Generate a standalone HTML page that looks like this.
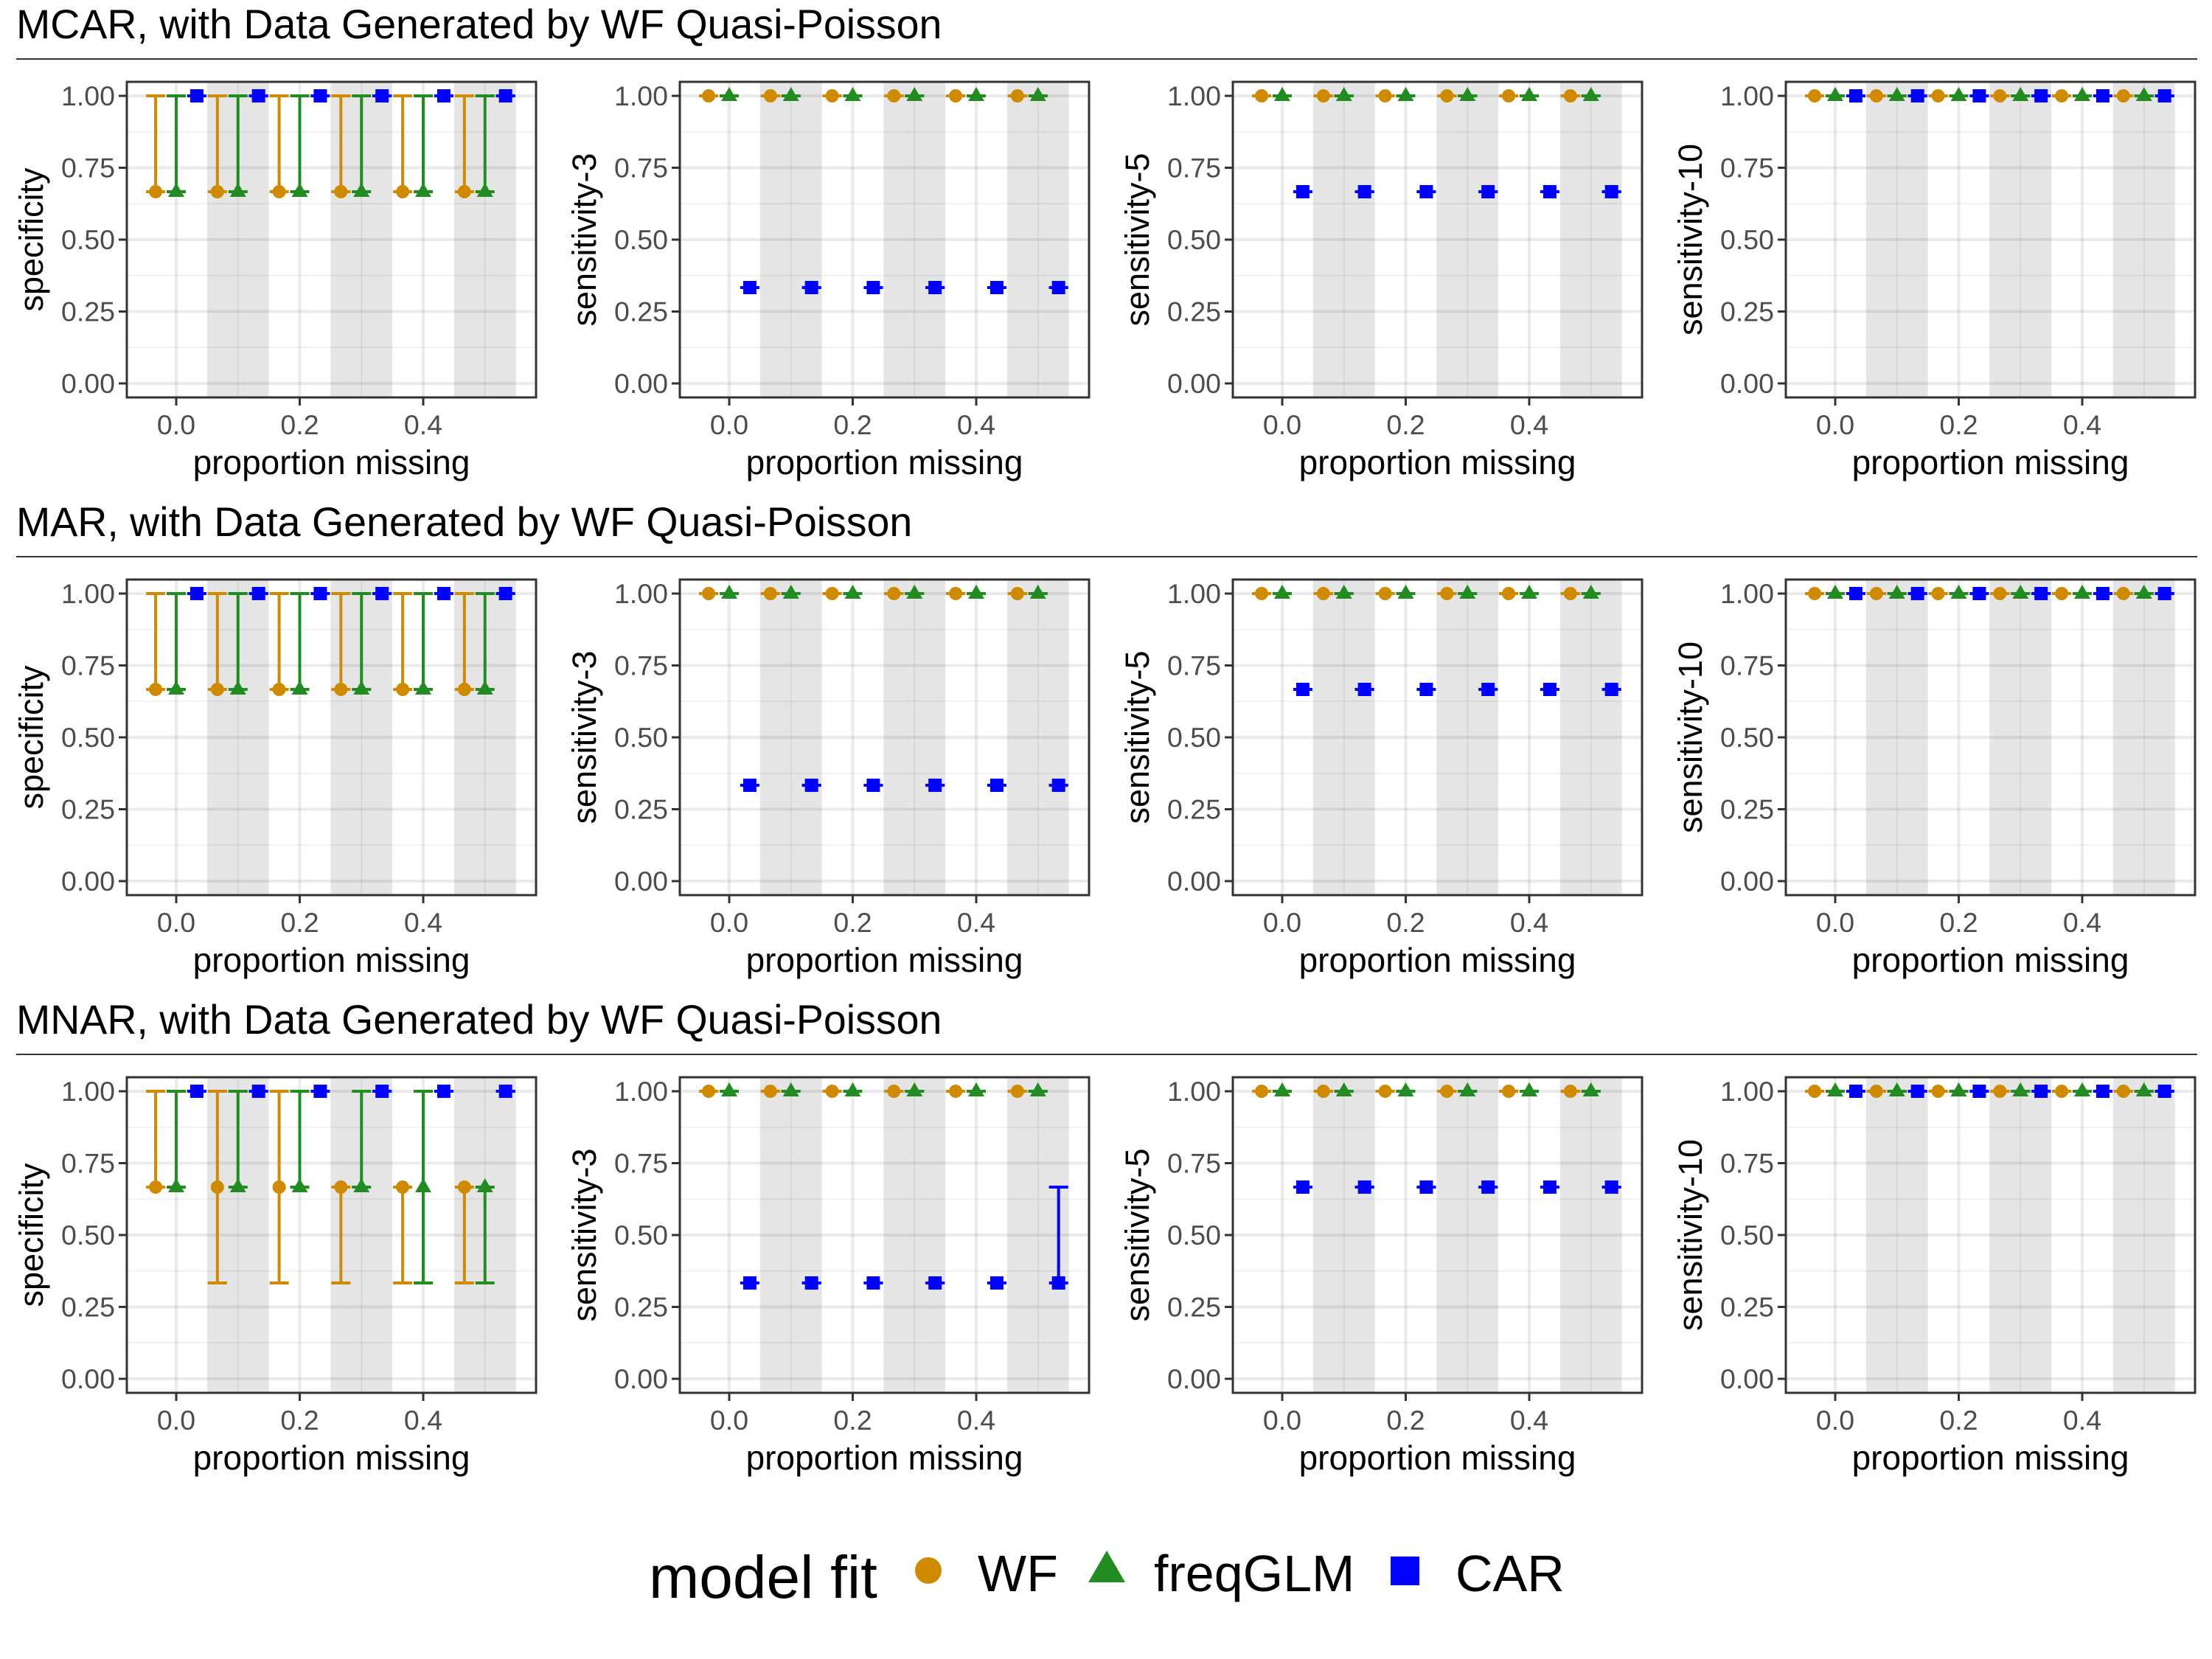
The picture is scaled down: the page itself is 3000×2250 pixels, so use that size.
<!DOCTYPE html>
<html><head><meta charset="utf-8"><style>
html,body{margin:0;padding:0;background:#fff;}
svg{display:block;font-family:"Liberation Sans",Arial,sans-serif;}
</style></head><body>
<svg id="chart" width="3000" height="2250" xmlns="http://www.w3.org/2000/svg"></svg>
<script>
// ---- data ----
const groups = [0, 0.1, 0.2, 0.3, 0.4, 0.5];
const seriesNames = ["WF", "freqGLM", "CAR"];
const rowTitles = ["MCAR, with Data Generated by WF Quasi-Poisson","MAR, with Data Generated by WF Quasi-Poisson","MNAR, with Data Generated by WF Quasi-Poisson"];
const metricNames = ["specificity","sensitivity-3","sensitivity-5","sensitivity-10"];
const yTicks = [0, 0.25, 0.5, 0.75, 1];
const yTickLabels = ["0.00","0.25","0.50","0.75","1.00"];
const xTicks = [0, 0.2, 0.4];
const xTickLabels = ["0.0","0.2","0.4"];
const T = 2/3, L = 1/3;
const specPt = {WF:[T,T,T,T,T,T], freqGLM:[T,T,T,T,T,T], CAR:[1,1,1,1,1,1]};
const specLo = {WF:[T,T,T,T,T,T], freqGLM:[T,T,T,T,T,T], CAR:[1,1,1,1,1,1]};
const specHi = {WF:[1,1,1,1,1,1], freqGLM:[1,1,1,1,1,1], CAR:[1,1,1,1,1,1]};
const mnarSpecLo = {WF:[T,L,L,L,L,L], freqGLM:[T,T,T,T,L,L], CAR:[1,1,1,1,1,1]};
const mnarSpecHi = {WF:[1,1,1,T,T,T], freqGLM:[1,1,1,1,1,T], CAR:[1,1,1,1,1,1]};
const sens3Pt = {WF:[1,1,1,1,1,1], freqGLM:[1,1,1,1,1,1], CAR:[L,L,L,L,L,L]};
const mnarSens3Hi = {WF:[1,1,1,1,1,1], freqGLM:[1,1,1,1,1,1], CAR:[L,L,L,L,L,T]};
const sens5Pt = {WF:[1,1,1,1,1,1], freqGLM:[1,1,1,1,1,1], CAR:[T,T,T,T,T,T]};
const sens10Pt = {WF:[1,1,1,1,1,1], freqGLM:[1,1,1,1,1,1], CAR:[1,1,1,1,1,1]};

const panels = [
 [[specPt,specLo,specHi],[sens3Pt,sens3Pt,sens3Pt],[sens5Pt,sens5Pt,sens5Pt],[sens10Pt,sens10Pt,sens10Pt]],
 [[specPt,specLo,specHi],[sens3Pt,sens3Pt,sens3Pt],[sens5Pt,sens5Pt,sens5Pt],[sens10Pt,sens10Pt,sens10Pt]],
 [[specPt,mnarSpecLo,mnarSpecHi],[sens3Pt,sens3Pt,mnarSens3Hi],[sens5Pt,sens5Pt,sens5Pt],[sens10Pt,sens10Pt,sens10Pt]]
];
const colors = {WF:"#D08A00", freqGLM:"#228B22", CAR:"#0000FF"};
const dodge = {WF:-1/30, freqGLM:0, CAR:1/30};

const NS="http://www.w3.org/2000/svg";
const svg=document.getElementById('chart');
function mk(tag,attrs,parent){const e=document.createElementNS(NS,tag);for(const k in attrs)e.setAttribute(k,attrs[k]);(parent||svg).appendChild(e);return e;}

for(let r=0;r<3;r++){
  const oy=r*675;
  const rt=mk('text',{x:22,y:52+oy,'font-size':55.5,fill:'#000'});
  
  
  rt.textContent=rowTitles[r];
  const rl=mk('line',{x1:22,x2:2980,y1:80+oy,y2:80+oy,stroke:'#333','stroke-width':2});
  
  
  for(let c=0;c<4;c++){
    const ox=c*750;
    const left=172+ox,right=727+ox,top=111+oy,bottom=539+oy;
    const X=v=>239+ox+v*837.5;
    const Y=v=>520+oy-v*390;
    const g=mk('g',{});
    
    
    for(const b of [0.1,0.3,0.5]){
      const rb=mk('rect',{x:X(b-0.05),y:top,width:X(b+0.05)-X(b-0.05),height:bottom-top,fill:'#e5e5e5'},g);
      
      
    }
    for(let i=0;i<4;i++){const v=0.125+i*0.25;mk('line',{x1:left,x2:right,y1:Y(v),y2:Y(v),stroke:'rgba(0,0,0,0.06)','stroke-width':2},g);}
    for(const v of yTicks)mk('line',{x1:left,x2:right,y1:Y(v),y2:Y(v),stroke:'rgba(0,0,0,0.08)','stroke-width':4},g);
    for(const v of [0.1,0.3,0.5])mk('line',{x1:X(v),x2:X(v),y1:top,y2:bottom,stroke:'rgba(0,0,0,0.06)','stroke-width':2},g);
    for(const v of xTicks)mk('line',{x1:X(v),x2:X(v),y1:top,y2:bottom,stroke:'rgba(0,0,0,0.08)','stroke-width':4},g);
    const [pt,lo,hi]=panels[r][c];
    for(const s of seriesNames){
      const col=colors[s];
      groups.forEach((gx,i)=>{
        const x=X(gx+dodge[s]);
        const eb=mk('g',{stroke:col,'stroke-width':4,fill:'none'},g);
        
        
        mk('line',{x1:x,x2:x,y1:Y(lo[s][i]),y2:Y(hi[s][i])},eb);
        mk('line',{x1:x-13,x2:x+13,y1:Y(lo[s][i]),y2:Y(lo[s][i])},eb);
        mk('line',{x1:x-13,x2:x+13,y1:Y(hi[s][i]),y2:Y(hi[s][i])},eb);
        const y=Y(pt[s][i]);let m;
        if(s==='WF')m=mk('circle',{cx:x,cy:y,r:9,fill:col},g);
        else if(s==='freqGLM')m=mk('polygon',{points:`${x},${y-12} ${x-11},${y+7} ${x+11},${y+7}`,fill:col},g);
        else m=mk('rect',{x:x-9,y:y-9,width:18,height:18,fill:col},g);
        
        
      });
    }
    const bd=mk('rect',{x:left,y:top,width:right-left,height:bottom-top,fill:'none',stroke:'#333','stroke-width':3},g);
    
    
    yTicks.forEach((v,i)=>{
      mk('line',{x1:left-11,x2:left,y1:Y(v),y2:Y(v),stroke:'#333','stroke-width':3},g);
      const t=mk('text',{x:left-16,y:Y(v)+13,'font-size':37.5,fill:'#4d4d4d','text-anchor':'end'},g);
      
      
      t.textContent=yTickLabels[i];
    });
    xTicks.forEach((v,i)=>{
      mk('line',{x1:X(v),x2:X(v),y1:bottom,y2:bottom+11,stroke:'#333','stroke-width':3},g);
      const t=mk('text',{x:X(v),y:bottom+50,'font-size':37.5,fill:'#4d4d4d','text-anchor':'middle'},g);
      
      
      t.textContent=xTickLabels[i];
    });
    const xt=mk('text',{x:(left+right)/2,y:643+oy,'font-size':46,fill:'#000','text-anchor':'middle'},g);
    
    
    xt.textContent='proportion missing';
    const yc=(top+bottom)/2;
    const yt=mk('text',{x:58+ox,y:yc,'font-size':45,fill:'#000','text-anchor':'middle',transform:`rotate(-90 ${58+ox} ${yc})`},g);
    
    
    yt.textContent=metricNames[c];
  }
}
const lg=mk('g',{});


const lt=mk('text',{x:880,y:2167,'font-size':82,fill:'#000'},lg);


lt.textContent='model fit';
const c1=mk('circle',{cx:1259,cy:2130,r:18,fill:colors.WF},lg);


const t2=mk('polygon',{points:'1501,2103 1476,2146 1526,2146',fill:colors.freqGLM},lg);


const s3=mk('rect',{x:1886,y:2111,width:39,height:39,fill:colors.CAR},lg);


[["WF",1326],["freqGLM",1565],["CAR",1974]].forEach(([n,x])=>{
  const t=mk('text',{x:x,y:2158,'font-size':70,fill:'#000'},lg);
  
  
  t.textContent=n;
});
</script>
</body></html>
